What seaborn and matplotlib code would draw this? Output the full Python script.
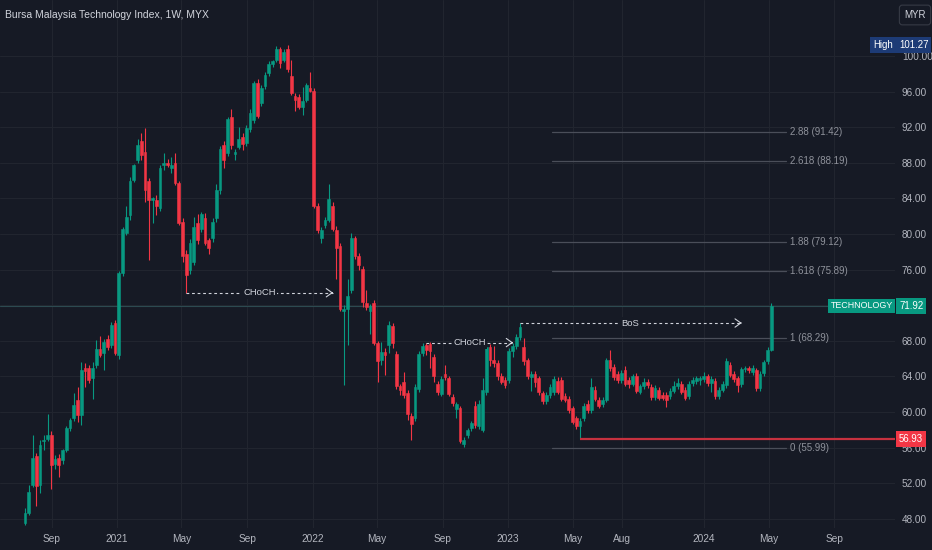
import matplotlib
matplotlib.use('Agg')
import matplotlib.pyplot as plt
import matplotlib.dates as mdates
import numpy as np
import pandas as pd
import seaborn as sns

# weekly OHLC (first bar = week of 2020-07-13)
first_week = '2020-07-13'
opens = [
    47.5, 48.6, 51.8, 55.1, 51.8, 56.7, 57.0, 57.4, 54.2, 54.8,
    54.6, 55.7, 58.2, 59.3, 61.3, 59.7, 64.9, 65.0, 63.8, 65.3,
    67.1, 66.6, 68.2, 67.5, 70.0, 66.4, 75.6, 80.1, 82.1, 86.1,
    88.3, 90.4, 89.2, 85.9, 83.8, 83.8, 82.9, 87.8, 88.0, 87.4,
    88.0, 85.7, 81.4, 77.8, 75.9, 76.9, 81.2, 80.6, 81.8, 79.3,
    79.5, 81.8, 84.9, 90.0, 89.1, 93.1, 89.0, 89.8, 90.9, 90.2,
    91.8, 92.8, 97.0, 94.7, 96.6, 98.1, 99.1, 99.6, 100.8, 99.6,
    100.8, 97.7, 95.5, 95.4, 94.3, 95.1, 96.4, 96.1, 83.1, 79.5,
    81.0, 81.6, 83.2, 80.5, 78.7, 71.3, 71.6, 73.7, 79.5, 77.5,
    76.1, 72.3, 71.4, 72.3, 67.7, 65.9, 66.7, 67.5, 69.7, 66.5,
    62.9, 63.4, 62.1, 59.6, 59.3, 62.6, 66.6, 67.5, 67.6, 66.2,
    63.2, 62.0, 64.3, 63.8, 61.7, 60.3, 60.4, 56.4, 57.4, 58.2,
    60.7, 58.4, 58.0, 62.2, 67.3, 65.9, 65.5, 64.1, 63.6, 63.6,
    66.9, 67.4, 68.4, 67.3, 65.8, 63.9, 64.3, 63.8, 62.1, 61.2,
    61.9, 62.2, 63.5, 63.6, 61.8, 61.5, 60.4, 59.3, 58.4, 59.3,
    60.9, 60.2, 62.5, 61.4, 60.9, 61.4, 65.8, 65.1, 64.3, 63.6,
    64.7, 63.6, 63.2, 64.1, 62.3, 62.9, 63.4, 62.8, 61.7, 62.5,
    61.9, 61.9, 61.8, 62.4, 62.9, 63.2, 62.5, 61.8, 63.3, 63.5,
    63.6, 63.7, 64.0, 63.3, 63.5, 61.8, 62.5, 63.0, 65.3, 64.3,
    63.8, 63.1, 64.8, 64.9, 64.5, 64.7, 62.7, 64.4, 65.7, 67.0,
]
highs = [
    49.2, 51.8, 57.4, 55.4, 56.9, 57.4, 59.8, 57.9, 55.2, 55.3,
    55.9, 58.4, 59.3, 62.1, 62.8, 65.6, 65.5, 65.3, 65.6, 68.1,
    68.5, 68.2, 68.7, 70.1, 70.3, 75.8, 80.8, 83.2, 86.4, 87.9,
    90.7, 91.3, 91.9, 86.3, 84.2, 84.4, 87.8, 89.1, 88.4, 88.7,
    89.1, 86.0, 81.8, 78.2, 79.4, 81.9, 82.3, 82.5, 82.4, 79.6,
    81.8, 85.6, 89.9, 90.5, 93.2, 94.0, 89.6, 92.0, 91.3, 92.2,
    94.1, 97.2, 97.4, 96.7, 98.2, 99.4, 99.6, 101.1, 101.0, 100.8,
    101.27, 99.6, 95.8, 95.7, 96.5, 97.0, 98.2, 96.4, 83.5, 80.8,
    81.9, 85.6, 83.6, 80.9, 79.0, 72.0, 74.9, 80.1, 79.8, 77.9,
    76.4, 73.7, 72.1, 72.6, 68.0, 67.9, 67.2, 70.2, 70.0, 66.8,
    63.2, 64.5, 62.5, 59.9, 63.1, 66.8, 67.7, 67.8, 67.9, 66.5,
    63.5, 64.0, 65.3, 64.1, 62.0, 61.1, 60.7, 57.2, 58.2, 59.0,
    61.2, 61.3, 63.8, 67.6, 67.6, 67.4, 65.8, 64.4, 63.9, 67.2,
    67.8, 68.8, 70.0, 68.3, 66.1, 64.6, 64.6, 64.1, 62.4, 62.2,
    63.1, 64.0, 63.9, 63.9, 62.1, 61.8, 60.7, 59.6, 59.3, 61.0,
    61.4, 63.8, 62.9, 61.7, 61.7, 66.1, 67.0, 65.4, 64.6, 64.7,
    65.2, 63.9, 64.3, 64.4, 63.2, 63.8, 63.7, 63.1, 63.0, 62.8,
    62.2, 62.2, 62.7, 63.5, 63.8, 63.5, 62.8, 63.5, 63.9, 64.1,
    64.1, 64.5, 64.3, 64.0, 63.8, 62.8, 63.5, 66.1, 65.6, 64.6,
    64.1, 65.1, 65.2, 65.2, 65.3, 65.0, 64.6, 65.9, 67.3, 72.3,
]
lows = [
    47.3, 48.4, 51.6, 49.4, 50.9, 55.7, 56.8, 51.4, 53.6, 52.7,
    54.2, 55.5, 57.9, 59.0, 58.9, 58.5, 62.8, 63.3, 61.5, 64.9,
    66.2, 64.7, 67.0, 67.2, 66.4, 66.0, 75.3, 79.9, 81.6, 85.8,
    88.0, 88.3, 83.6, 77.1, 81.2, 82.1, 82.6, 87.2, 87.5, 86.8,
    85.5, 81.0, 76.9, 73.4, 75.5, 76.5, 78.9, 80.2, 78.8, 77.8,
    79.1, 81.4, 84.5, 87.4, 88.8, 89.6, 88.3, 89.5, 89.4, 89.9,
    91.5, 92.5, 93.0, 94.4, 96.3, 97.8, 98.8, 99.3, 98.6, 99.3,
    98.2, 95.6, 93.8, 94.0, 93.4, 94.8, 95.9, 82.9, 80.1, 79.0,
    80.7, 81.3, 80.3, 75.0, 71.3, 63.0, 67.5, 73.4, 77.2, 76.0,
    71.8, 71.5, 68.8, 67.5, 63.4, 65.3, 64.2, 66.6, 67.2, 62.6,
    61.9, 61.6, 59.1, 56.9, 59.0, 62.3, 66.3, 66.4, 65.0, 63.4,
    61.9, 61.8, 63.6, 61.8, 60.7, 59.3, 56.5, 56.1, 57.1, 57.9,
    58.2, 58.1, 57.8, 61.9, 65.2, 65.1, 63.6, 63.1, 62.7, 63.3,
    66.2, 67.1, 68.1, 65.3, 63.7, 62.4, 62.8, 61.9, 60.9, 60.9,
    61.6, 61.9, 62.0, 61.2, 61.1, 59.9, 58.6, 58.1, 56.93, 59.0,
    59.9, 59.9, 61.2, 60.4, 60.6, 61.1, 64.6, 63.6, 63.3, 63.3,
    62.9, 62.7, 62.9, 62.1, 62.0, 62.6, 62.7, 61.4, 61.4, 61.3,
    61.3, 60.6, 61.5, 62.1, 62.6, 62.0, 61.3, 61.5, 62.9, 63.2,
    63.0, 63.4, 62.9, 62.3, 61.5, 61.5, 62.2, 62.7, 63.9, 63.4,
    62.3, 62.8, 64.5, 64.4, 64.2, 62.4, 62.4, 64.1, 65.4, 66.8,
]
closes = [
    48.6, 51.0, 54.8, 51.7, 56.3, 56.9, 57.4, 54.0, 54.7, 54.0,
    55.7, 58.2, 59.1, 60.8, 59.7, 64.7, 64.6, 63.6, 64.9, 67.1,
    66.4, 67.9, 67.3, 69.8, 66.6, 75.6, 80.6, 81.9, 85.9, 87.7,
    90.0, 88.9, 84.9, 83.8, 84.1, 83.1, 87.4, 88.0, 87.7, 87.7,
    85.7, 81.2, 77.5, 75.4, 79.0, 80.8, 79.3, 82.3, 79.0, 78.4,
    81.4, 84.9, 89.6, 88.3, 92.9, 90.0, 89.2, 90.7, 90.1, 91.9,
    93.6, 97.0, 93.3, 96.4, 97.9, 99.1, 99.4, 100.8, 99.2, 100.5,
    98.5, 95.8, 95.1, 94.3, 94.9, 96.7, 96.1, 83.1, 80.4, 80.5,
    81.6, 83.9, 80.6, 78.4, 71.6, 71.6, 73.0, 79.5, 77.5, 76.5,
    72.4, 71.8, 71.9, 67.8, 65.7, 66.7, 66.4, 69.8, 67.7, 62.9,
    62.5, 61.9, 59.8, 58.7, 62.8, 66.5, 67.4, 67.0, 66.9, 64.0,
    62.3, 63.7, 63.9, 62.0, 61.0, 60.9, 56.8, 56.9, 58.0, 58.8,
    58.5, 60.9, 62.5, 67.3, 65.8, 65.5, 64.1, 63.4, 63.0, 66.9,
    67.4, 68.4, 69.6, 65.7, 64.0, 64.3, 63.4, 62.3, 61.2, 61.9,
    62.8, 63.7, 62.3, 61.5, 61.4, 60.2, 58.9, 58.4, 59.0, 60.7,
    60.2, 62.8, 61.5, 60.7, 61.4, 65.8, 64.9, 63.9, 63.6, 64.4,
    63.2, 63.2, 64.0, 62.4, 62.9, 63.4, 63.0, 61.7, 62.7, 61.6,
    61.6, 61.3, 62.4, 62.9, 63.3, 62.3, 61.6, 63.2, 63.6, 63.8,
    63.8, 64.0, 63.3, 63.7, 61.8, 62.5, 63.2, 65.7, 64.2, 63.7,
    63.0, 64.8, 64.9, 64.7, 65.0, 62.7, 64.3, 65.6, 67.0, 71.92,
]

last_price = 71.92
range_high = 101.27
support_level = 56.93
support_from = 148          # bar index where the red support line starts

fib_ratios = ['2.88', '2.618', '1.88', '1.618', '1', '0']
fib_levels = [91.42, 88.19, 79.12, 75.89, 68.29, 55.99]
fib_start, fib_end = '2023-03-23', '2024-06-02'

struct_names = ['CHoCH', 'CHoCH', 'BoS']
struct_levels = [73.4, 67.8, 70.0]
struct_from = [43, 107, 132]
struct_to = [82, 130, 191]

tick_dates = ['2020-09-01', '2021-01-01', '2021-05-01', '2021-09-01', '2022-01-01',
              '2022-05-01', '2022-09-01', '2023-01-01', '2023-05-01', '2023-08-01',
              '2024-01-01', '2024-05-01', '2024-09-01']
tick_labels = ['Sep', '2021', 'May', 'Sep', '2022', 'May', 'Sep', '2023', 'May', 'Aug',
               '2024', 'May', 'Sep']
y_ticks = np.arange(48, 101, 4)

bg = '#161a25'
up, down = '#089981', '#f23645'
txt = '#b2b5be'
grid = '#21252f'

sns.set_theme(style='darkgrid', rc={
    'figure.facecolor': bg, 'axes.facecolor': bg, 'savefig.facecolor': bg,
    'grid.color': grid, 'grid.linewidth': 0.8, 'axes.edgecolor': bg,
})
plt.rcParams['font.family'] = ['Liberation Sans', 'DejaVu Sans']

df = pd.DataFrame({'open': opens, 'high': highs, 'low': lows, 'close': closes})
df['date'] = pd.date_range(first_week, periods=len(df), freq='7D')
x = mdates.date2num(df['date'])
o, h, l, c = (df[k].to_numpy() for k in ['open', 'high', 'low', 'close'])
cols = np.where(c >= o, up, down)

fig = plt.figure(figsize=(9.32, 5.5), dpi=100)
ax = fig.add_axes([0, 22 / 550, 895 / 932, 528 / 550])

# candles
ax.vlines(x, l, h, colors=cols, linewidth=0.8, zorder=3)
ax.bar(x, np.maximum(np.abs(c - o), 0.12), bottom=np.minimum(o, c), width=5.2,
       color=cols, edgecolor=cols, linewidth=0.4, zorder=4)

px_per_day = 3.75 / 7
xmin = x[0] - 25 / px_per_day
xmax = x[0] + (895 - 25) / px_per_day
ax.set_xlim(xmin, xmax)
ax.set_ylim(46.97, 106.29)

# last price line
ax.axhline(last_price, color='#2c4a50', linewidth=0.8, zorder=2)

# support line
ax.plot([x[support_from], xmax], [support_level, support_level], color='#c7313f',
        linewidth=1.6, zorder=5, solid_capstyle='butt')

# fibonacci levels
fx0, fx1 = mdates.date2num(pd.to_datetime([fib_start, fib_end]))
for r, v in zip(fib_ratios, fib_levels):
    ax.plot([fx0, fx1], [v, v], color='#4a4e59', linewidth=0.9, zorder=2)
    ax.text(fx1 + 4 / px_per_day, v, f'{r} ({v:.2f})', color='#8f929b', fontsize=7.0,
            ha='left', va='center', zorder=6)

# market structure
lc = '#d1d4dc'
for name, v, i0, i1 in zip(struct_names, struct_levels, struct_from, struct_to):
    ax.plot([x[i0], x[i1]], [v, v], color=lc, linewidth=0.8, linestyle=(0, (2.5, 2.5)),
            zorder=6)
    ax.annotate('', xy=(x[i1] + 1, v), xytext=(x[i1] - 2, v),
                arrowprops=dict(arrowstyle='->,head_length=0.35,head_width=0.25',
                                color=lc, lw=0.8), zorder=6)
    ax.text((x[i0] + x[i1]) / 2, v, name, color=lc, fontsize=6.8, ha='center',
            va='center', zorder=7,
            bbox=dict(boxstyle='square,pad=0.15', fc=bg, ec='none'))

# axes styling (the 72.00 label sits under the last-price badge)
ax.set_xticks(mdates.date2num(pd.to_datetime(tick_dates)))
ax.set_xticklabels(tick_labels)
ax.yaxis.tick_right()
ax.set_yticks(y_ticks)
ax.set_yticklabels(['' if v == 72 else f'{v:.2f}' for v in y_ticks])
ax.tick_params(axis='x', length=0, pad=4, colors=txt, labelsize=7.3)
ax.tick_params(axis='y', length=0, pad=5, colors=txt, labelsize=7.2)
for s in ax.spines.values():
    s.set_visible(False)
ax.grid(True, color=grid, linewidth=0.8)

# price scale badges
yt = ax.get_yaxis_transform()
def badge(xa, v, s, fc, ha, size=6.9):
    ax.text(xa, v, s, transform=yt, ha=ha, va='center', color='white', fontsize=size,
            clip_on=False, zorder=10,
            bbox=dict(boxstyle='square,pad=0.3', fc=fc, ec='none'))

badge(0.9975, range_high, 'High', '#1d3b76', 'right')
badge(1.0045, range_high, f'{range_high:.2f}', '#1d3b76', 'left')
badge(0.9975, last_price, 'TECHNOLOGY', up, 'right', 6.4)
badge(1.0045, last_price, f'{last_price:.2f}', up, 'left')
badge(1.0045, support_level, f'{support_level:.2f}', down, 'left')

fig.text(5 / 932, 1 - 15 / 550, 'Bursa Malaysia Technology Index, 1W, MYX',
         color='#d1d4dc', fontsize=7.5, ha='left', va='center')
fig.text(915 / 932, 1 - 15 / 550, 'MYR', color='#d1d4dc', fontsize=7.0,
         ha='center', va='center',
         bbox=dict(boxstyle='round,pad=0.5,rounding_size=0.3', fc=bg, ec='#363a45',
                   lw=0.8))

fig.savefig('out.png', dpi=100)
